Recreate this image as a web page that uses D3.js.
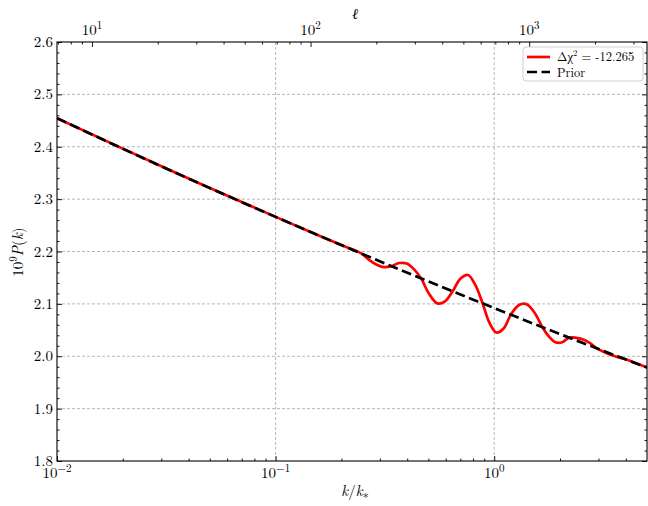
<!DOCTYPE html>
<html><head><meta charset="utf-8">
<script src="https://cdn.jsdelivr.net/npm/d3@7"></script>
<style>
body{margin:0;background:#fff;}
</style></head>
<body><svg id="chart" width="648" height="506"></svg>
<script>
// ---------- data ----------
const kRed = [0.01,0.03162,0.1,0.1585,0.1995,0.2483,0.2677,0.2884,0.3126,0.3388,0.3673,0.3981,0.4290,0.4624,0.5042,0.5495,0.5957,0.6457,0.6998,0.7586,0.8193,0.8851,0.9517,1.0233,1.1041,1.1912,1.2942,1.4060,1.5276,1.6616,1.7783,1.9055,2.0464,2.1979,2.3768,2.5704,2.7542,2.9512,3.4277,3.9811,5.0];
const pRed = [2.4546,2.3583,2.2661,2.2301,2.2123,2.1956,2.1839,2.1752,2.1701,2.1720,2.1780,2.1769,2.1663,2.1488,2.1190,2.1009,2.1049,2.1240,2.1478,2.1552,2.1362,2.1009,2.0638,2.0453,2.0530,2.0793,2.0974,2.0994,2.0834,2.0555,2.0379,2.0267,2.0267,2.0356,2.0351,2.0316,2.0247,2.0149,2.0024,1.9941,1.9784];
const kPrior = [0.01,0.02,0.05,0.1,0.2,0.5,1,2,5];
const pPrior = [2.4546,2.3962,2.3211,2.2661,2.2122,2.1429,2.092,2.0423,1.9784];
const xMajor = [0.01,0.1,1];
const xMajorExp = ["\u22122","\u22121","0"];
const yTicks = [1.8,1.9,2.0,2.1,2.2,2.3,2.4,2.5,2.6];
const yTickLabels = ["1.8","1.9","2.0","2.1","2.2","2.3","2.4","2.5","2.6"];
const ellMajor = [10,100,1000];
const ellMajorExp = ["1","2","3"];
const ellPerK = 692;
const legendLabels = ["\u0394\u03c7","Prior"];
const chi2Text = " = -12.265";

// ---------- layout ----------
const L=57, R=647, T=42, B=461;
const ff="'Latin Modern Roman'";
const svg = d3.select("#chart");
const x = d3.scaleLog().domain([0.01,5]).range([L,R]);
const xTop = d3.scaleLog().domain([0.01*ellPerK,5*ellPerK]).range([L,R]);
const y = d3.scaleLinear().domain([1.8,2.6]).range([B,T]);

// grid
const grid = svg.append("g").attr("stroke","#a6a6a6").attr("stroke-width",0.8).attr("stroke-dasharray","3,2");
grid.selectAll(".gy").data(yTicks.slice(1,-1)).enter().append("line")
  .attr("x1",L).attr("x2",R).attr("y1",d=>y(d)).attr("y2",d=>y(d));
grid.selectAll(".gx").data(xMajor.slice(1)).enter().append("line")
  .attr("y1",T).attr("y2",B).attr("x1",d=>x(d)).attr("x2",d=>x(d));

// minor tick values
function logMinors(lo,hi){const out=[];for(let e=-3;e<5;e++){for(let m=2;m<10;m++){const v=m*Math.pow(10,e);if(v>lo&&v<hi)out.push(v);}}return out;}
const xMinor = logMinors(0.01,5);
const ellMinor = logMinors(0.01*ellPerK,5*ellPerK);
const yMinor = d3.range(1.8,2.6001,0.02).filter(v=>Math.abs(v*10-Math.round(v*10))>1e-6);

function styleAxis(g){g.select(".domain").remove();g.selectAll(".tick line").attr("stroke","#000").attr("stroke-width",0.9);g.selectAll(".tick text").remove();}

// bottom
svg.append("g").attr("transform",`translate(0,${B})`).call(d3.axisBottom(x).tickValues(xMajor).tickSize(-5)).call(styleAxis);
svg.append("g").attr("transform",`translate(0,${B})`).call(d3.axisBottom(x).tickValues(xMinor).tickSize(-2.5)).call(styleAxis);
// top
svg.append("g").attr("transform",`translate(0,${T})`).call(d3.axisTop(xTop).tickValues(ellMajor).tickSize(-5)).call(styleAxis);
svg.append("g").attr("transform",`translate(0,${T})`).call(d3.axisTop(xTop).tickValues(ellMinor).tickSize(-2.5)).call(styleAxis);
// left/right
svg.append("g").attr("transform",`translate(${L},0)`).call(d3.axisLeft(y).tickValues(yTicks).tickSize(-5)).call(styleAxis);
svg.append("g").attr("transform",`translate(${L},0)`).call(d3.axisLeft(y).tickValues(yMinor).tickSize(-2.5)).call(styleAxis);
svg.append("g").attr("transform",`translate(${R},0)`).call(d3.axisRight(y).tickValues(yTicks).tickSize(-5)).call(styleAxis);
svg.append("g").attr("transform",`translate(${R},0)`).call(d3.axisRight(y).tickValues(yMinor).tickSize(-2.5)).call(styleAxis);

// lines
svg.append("clipPath").attr("id","clip").append("rect").attr("x",L).attr("y",T).attr("width",R-L).attr("height",B-T);
const line = (ks,ps,curve)=>d3.line().x((d,i)=>x(ks[i])).y((d,i)=>y(ps[i])).curve(curve)(ks);
svg.append("path").attr("d",line(kRed,pRed,d3.curveCatmullRom.alpha(0.5))).attr("fill","none").attr("stroke","#ff0000").attr("stroke-width",2.7).attr("clip-path","url(#clip)");
svg.append("path").attr("d",line(kPrior,pPrior,d3.curveMonotoneX)).attr("fill","none").attr("stroke","#000").attr("stroke-width",2.7).attr("stroke-dasharray","10,4.5").attr("clip-path","url(#clip)");

// frame
svg.append("rect").attr("x",L).attr("y",T).attr("width",R-L).attr("height",B-T).attr("fill","none").attr("stroke","#000").attr("stroke-width",1.1);

// tick labels
const fs=15;
svg.selectAll(".yl").data(yTicks).enter().append("text").attr("font-family",ff).attr("x",L-4).attr("y",d=>y(d)+5).attr("text-anchor","end").attr("font-size",fs).text((d,i)=>yTickLabels[i]);
function powLabel(xpos,ypos,exp){
  const t=svg.append("text").attr("font-family",ff).attr("x",xpos).attr("y",ypos).attr("text-anchor","middle").attr("font-size",fs);
  t.append("tspan").text("10");
  t.append("tspan").attr("dy",-6).attr("font-size",11).text(exp);
}
xMajor.forEach((v,i)=>powLabel(x(v),478,xMajorExp[i]));
ellMajor.forEach((v,i)=>powLabel(xTop(v),35,ellMajorExp[i]));

// axis titles
const xt=svg.append("text").attr("font-family",ff).attr("x",355).attr("y",496).attr("text-anchor","middle").attr("font-size",15);
xt.append("tspan").attr("font-style","italic").text("k");
xt.append("tspan").text("/");
xt.append("tspan").attr("font-style","italic").text("k");
xt.append("tspan").attr("font-size",12).attr("dy",6).text("*");
svg.append("text").attr("font-family",ff).attr("x",355).attr("y",19).attr("text-anchor","middle").attr("font-size",15).attr("font-style","italic").text("\u2113");
const yt=svg.append("text").attr("font-family",ff).attr("transform","translate(23,252) rotate(-90)").attr("text-anchor","middle").attr("font-size",15);
yt.append("tspan").text("10");
yt.append("tspan").attr("font-size",11).attr("dy",-6).text("9");
yt.append("tspan").attr("dy",6).attr("font-style","italic").text("P");
yt.append("tspan").text("(");
yt.append("tspan").attr("font-style","italic").text("k");
yt.append("tspan").text(")");

// legend
const lg=svg.append("g");
lg.append("rect").attr("x",523).attr("y",47).attr("width",120).attr("height",34).attr("rx",3).attr("fill","#fff").attr("fill-opacity",0.85).attr("stroke","#d0d0d0").attr("stroke-width",1);
lg.append("line").attr("x1",527).attr("x2",550).attr("y1",57).attr("y2",57).attr("stroke","#ff0000").attr("stroke-width",2.7);
lg.append("line").attr("x1",527).attr("x2",550).attr("y1",72).attr("y2",72).attr("stroke","#000").attr("stroke-width",2.7).attr("stroke-dasharray","10,4.5");
const l1=lg.append("text").attr("font-family",ff).attr("x",557).attr("y",61).attr("font-size",12.5);
l1.append("tspan").text(legendLabels[0]);
l1.append("tspan").attr("font-size",8.5).attr("dy",-5).text("2");
l1.append("tspan").attr("dy",5).text(chi2Text);
lg.append("text").attr("font-family",ff).attr("x",557).attr("y",77).attr("font-size",12.5).text(legendLabels[1]);
</script></body></html>
